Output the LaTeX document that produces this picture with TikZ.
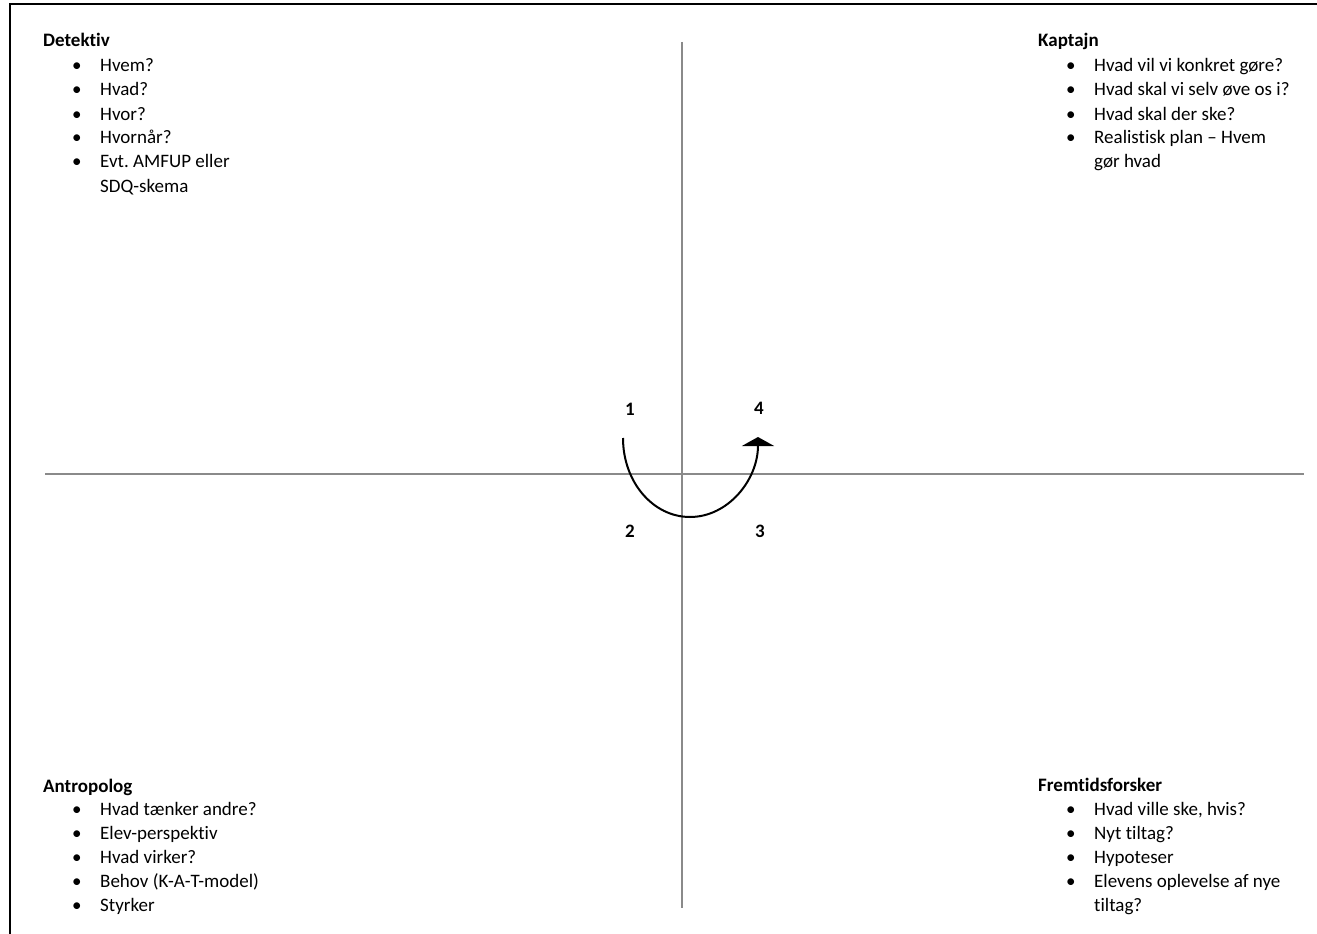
\documentclass[tikz,border=0pt]{standalone}
\usepackage{fontspec}
\setmainfont[Ligatures=NoCommon]{Carlito}
\usetikzlibrary{arrows.meta,positioning}
\definecolor{Axis}{HTML}{8A8A8A}
\newcommand{\pkt}{\makebox[28pt][l]{\textbullet}}
\newcommand{\ind}{\hspace*{28pt}}
\frenchspacing

\begin{document}
\begin{tikzpicture}[x=1pt,y=-1pt,font=\fontsize{19}{24}\selectfont,
  head/.style={anchor=base west,inner sep=0pt,font=\fontsize{19}{24}\selectfont\bfseries},
  liste/.style={anchor=base west,inner sep=0pt},
  num/.style={anchor=base,inner sep=0pt,font=\fontsize{19}{24}\selectfont\bfseries},
  axis/.style={draw=Axis,line width=1.3pt}]
  \useasboundingbox (0,0) rectangle (1317,934);
  % ramme
  \draw[line width=2.5pt] (10,934) -- (10,4) -- (1317,4);
  % akser
  \draw[axis] (682,42) -- (682,908);
  \draw[axis] (45,474) -- (1304,474);
  % hjoerner
  \node[head] (det) at (43,47) {Detektiv};
  \node[liste] (detl) at (72,72) {\begin{tabular}[t]{@{}l@{}}
    \pkt Hvem?\\ \pkt Hvad?\\ \pkt Hvor?\\ \pkt Hvornår?\\
    \pkt Evt. AMFUP eller\\ \ind SDQ-skema\end{tabular}};
  \node[head] (kap) at (1038,47) {Kaptajn};
  \node[liste] (kapl) at (1066,72) {\begin{tabular}[t]{@{}l@{}}
    \pkt Hvad vil vi konkret gøre?\\ \pkt Hvad skal vi selv øve os i?\\
    \pkt Hvad skal der ske?\\ \pkt Realistisk plan -- Hvem\\ \ind gør hvad\end{tabular}};
  \node[head] (ant) at (43,792) {Antropolog};
  \node[liste] (antl) at (72,815) {\begin{tabular}[t]{@{}l@{}}
    \pkt Hvad tænker andre?\\ \pkt Elev-perspektiv\\ \pkt Hvad virker?\\
    \pkt Behov (K-A-T-model)\\ \pkt Styrker\end{tabular}};
  \node[head] (frem) at (1038,791) {Fremtidsforsker};
  \node[liste] (freml) at (1066,815) {\begin{tabular}[t]{@{}l@{}}
    \pkt Hvad ville ske, hvis?\\ \pkt Nyt tiltag?\\ \pkt Hypoteser\\
    \pkt Elevens oplevelse af nye\\ \ind tiltag?\end{tabular}};
  % trin
  \node[num] (n1) at (630,415) {1};
  \node[num] (n4) at (759,414) {4};
  \node[num] (n2) at (630,537) {2};
  \node[num] (n3) at (760,537) {3};
  % pil
  \coordinate (fra) at (623,438);
  \coordinate (bund) at (690,517);
  \coordinate (til) at (758,437);
  \draw[line width=2pt,-{Triangle[width=32pt,length=9pt]}] (fra) .. controls (623,482) and (653,517) .. (bund)
    .. controls (728,517) and (758,480) .. (til);
\end{tikzpicture}
\end{document}
